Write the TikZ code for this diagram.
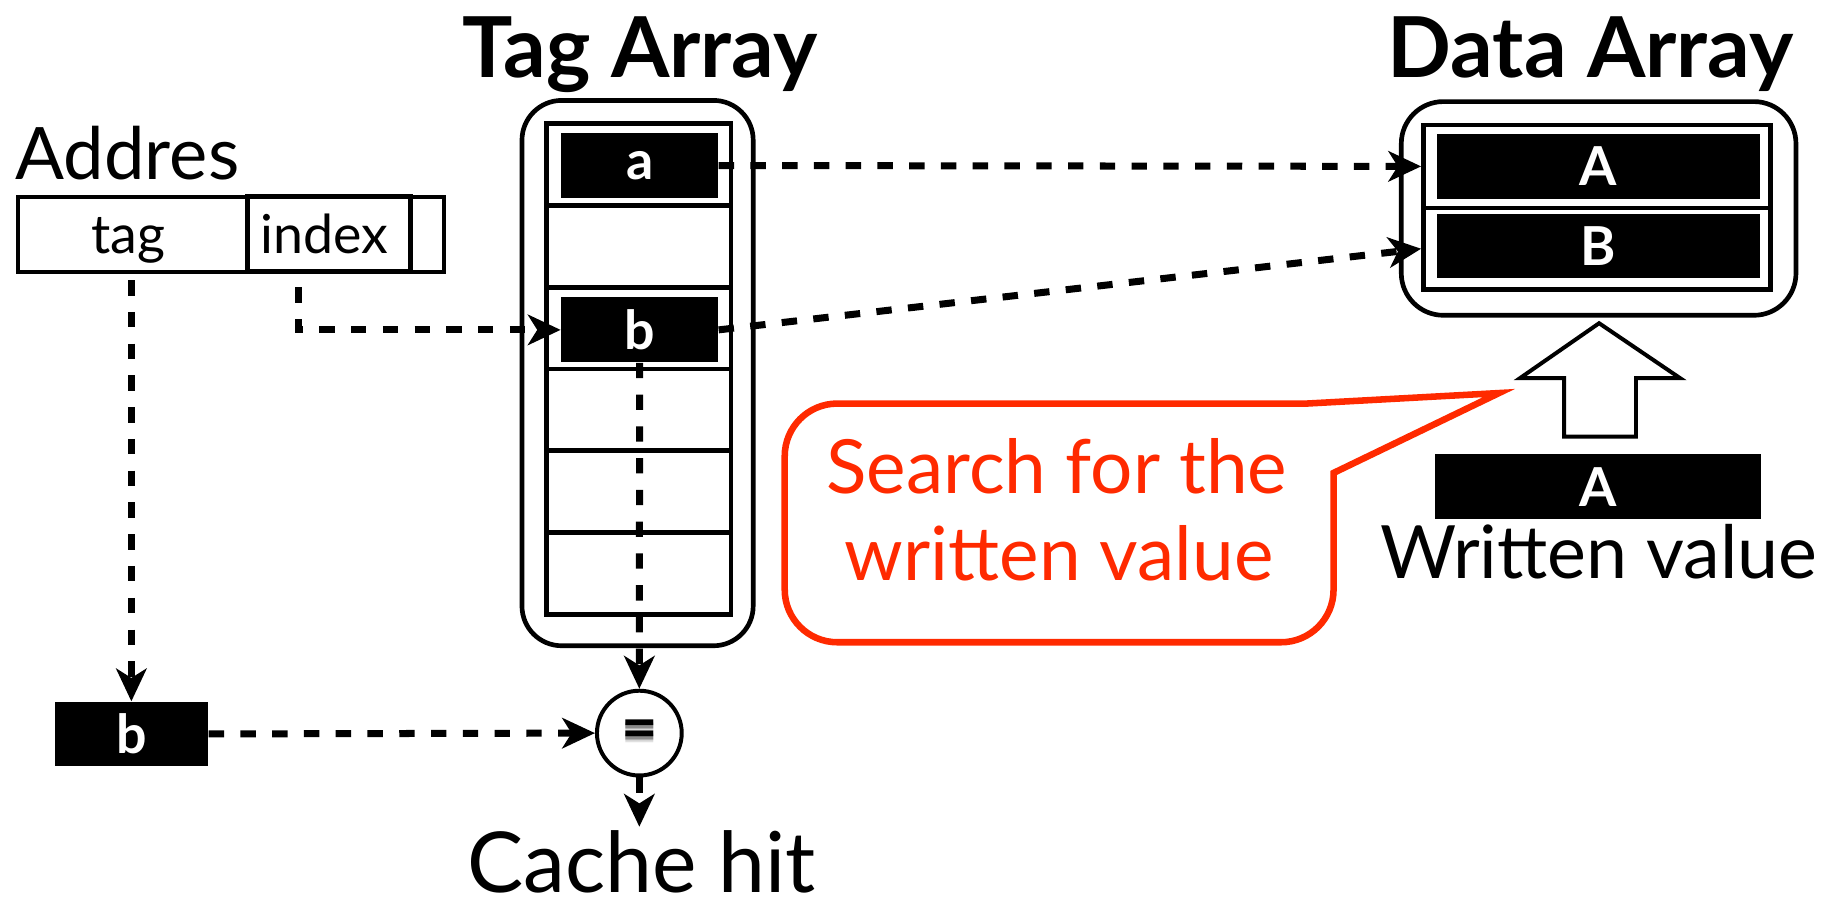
\documentclass[tikz,border=0pt]{standalone}
\usepackage{fontspec}
\setmainfont{Lato}
\usetikzlibrary{arrows.meta}
\definecolor{callred}{HTML}{FF2A00}
\begin{document}
\begin{tikzpicture}[x=0.5pt,y=-0.5pt,
  fs/.style={font=\fontsize{#1}{#1}\selectfont},
  fb/.style={font=\bfseries\fontsize{#1}{#1}\selectfont},
  lbl/.style={anchor=base, inner sep=0pt},
  frame/.style={draw=black, line width=2pt, inner sep=0pt},
  cell/.style={draw=black, line width=2pt, inner sep=0pt, minimum width=79pt, minimum height=35pt},
  field/.style={draw=black, line width=1.7pt, inner sep=0pt, minimum height=32.1pt},
  blk/.style={fill=black, text=white, inner sep=0pt, fb=23},
  flow/.style={line width=3pt, dash pattern=on 6.6pt off 7pt,
    -{Stealth[length=14pt, width=13pt, inset=4pt]}},
  callout/.style={draw=callred, line width=2.8pt, line join=miter},
]
\useasboundingbox (0,0) rectangle (1568,780);

% titles
\node[lbl, fb=36] (tagttl) at (548,66) {Tag Array};
\node[lbl, fb=36] (datattl) at (1362,66) {Data Array};

% address word
\node[lbl, fs=31, anchor=base west] (addr) at (13,154) {Addres};
\node[field, minimum width=98.35pt] (tagf) at (113.6,200.5) {};
\node[field, minimum width=69.85pt, line width=2pt] (idxf) at (281.85,200.5) {};
\node[field, minimum width=14.15pt] (offf) at (365.85,200.5) {};
\node[lbl, fs=23] (tagtxt) at (110,217) {tag};
\node[lbl, fs=23] (idxtxt) at (278,217) {index};

% tag array
\node[frame, rounded corners=17pt, minimum width=99pt, minimum height=233.5pt] (tagarr) at (546,319.5) {};
\node[cell] (r1) at (547,141) {};
\node[cell] (r2) at (547,211) {};
\node[cell] (r3) at (547,281) {};
\node[cell] (r4) at (547,351) {};
\node[cell] (r5) at (547,421) {};
\node[cell] (r6) at (547,491) {};
\node[blk, minimum width=67.25pt, minimum height=27.75pt] (ta) at (547.75,141.75) {a};
\node[blk, minimum width=67.25pt, minimum height=27.75pt] (tb) at (547.75,282.5) {b};

% data array
\node[frame, rounded corners=18pt, minimum width=169pt, minimum height=91.5pt] (datarr) at (1369,178.5) {};
\node[frame, minimum width=148.5pt, minimum height=35.5pt] (dA) at (1367.5,142.5) {};
\node[frame, minimum width=148.5pt, minimum height=35pt] (dB) at (1367.5,213) {};
\node[blk, minimum width=138pt, minimum height=27.5pt] (bA) at (1369,142.5) {A};
\node[blk, minimum width=138pt, minimum height=27.5pt] (bB) at (1369,210.5) {B};

% written value
\draw[line width=1.7pt, line join=miter] (1369.4,276.8) -- (1438.7,323.8) -- (1401,323.8) -- (1401,374)
  -- (1339.5,374) -- (1339.5,323.8) -- (1301.7,323.8) -- cycle;
\node[blk, minimum width=139.5pt, minimum height=27.75pt] (wA) at (1368.5,416.8) {A};
\node[lbl, fs=31.5] (wtxt) at (1369,495) {Written value};

% speech bubble
\draw[callout] (1119,345.6) -- (717,345.6)
  arc[start angle=90, end angle=180, radius=22.5pt] -- (672,505)
  arc[start angle=180, end angle=270, radius=22.5pt] -- (1097,550)
  arc[start angle=270, end angle=360, radius=22.5pt] -- (1142,405)
  -- (1283.7,336.6) -- cycle;
\node[lbl, fs=32, text=callred] (s1) at (905,423) {Search for the};
\node[lbl, fs=32, text=callred] (s2) at (907,497) {written value};

% comparator with a soft shadow under the sign
\node[lbl, fb=27, text=black, opacity=0.12] (eqsh3) at (548,647) {=};
\node[lbl, fb=27, text=black, opacity=0.18] (eqsh2) at (548,645.5) {=};
\node[lbl, fb=27, text=black, opacity=0.25] (eqsh1) at (548,644) {=};
\node[lbl, fb=27] (eqtxt) at (548,642) {=};
\node[draw=black, line width=1.7pt, circle, minimum size=36.3pt, inner sep=0pt] (eq) at (547.5,627.8) {};
\node[blk, minimum width=65.8pt, minimum height=27.5pt] (lb) at (112.5,628.5) {b};
\coordinate (hit) at (547.5,708);
\node[lbl, fs=36] (cache) at (549.6,764) {Cache hit};

% connectors
\coordinate (tagout) at ([yshift=-2.8pt]tagf.south);
\coordinate (idxout) at (255.5,246);
\draw[flow] (tagout -| lb.north) -- (lb.north);
\draw[flow] (idxout) |- (tb.west);
\draw[flow] (ta.east) -- (dA.west);
\draw[flow] (tb.east) -- (dB.west);
\draw[flow] (tb.south) -- (eq.north);
\draw[flow] (lb.east) -- (eq.west);
\draw[flow] (eq.south) -- (hit);
\end{tikzpicture}
\end{document}
